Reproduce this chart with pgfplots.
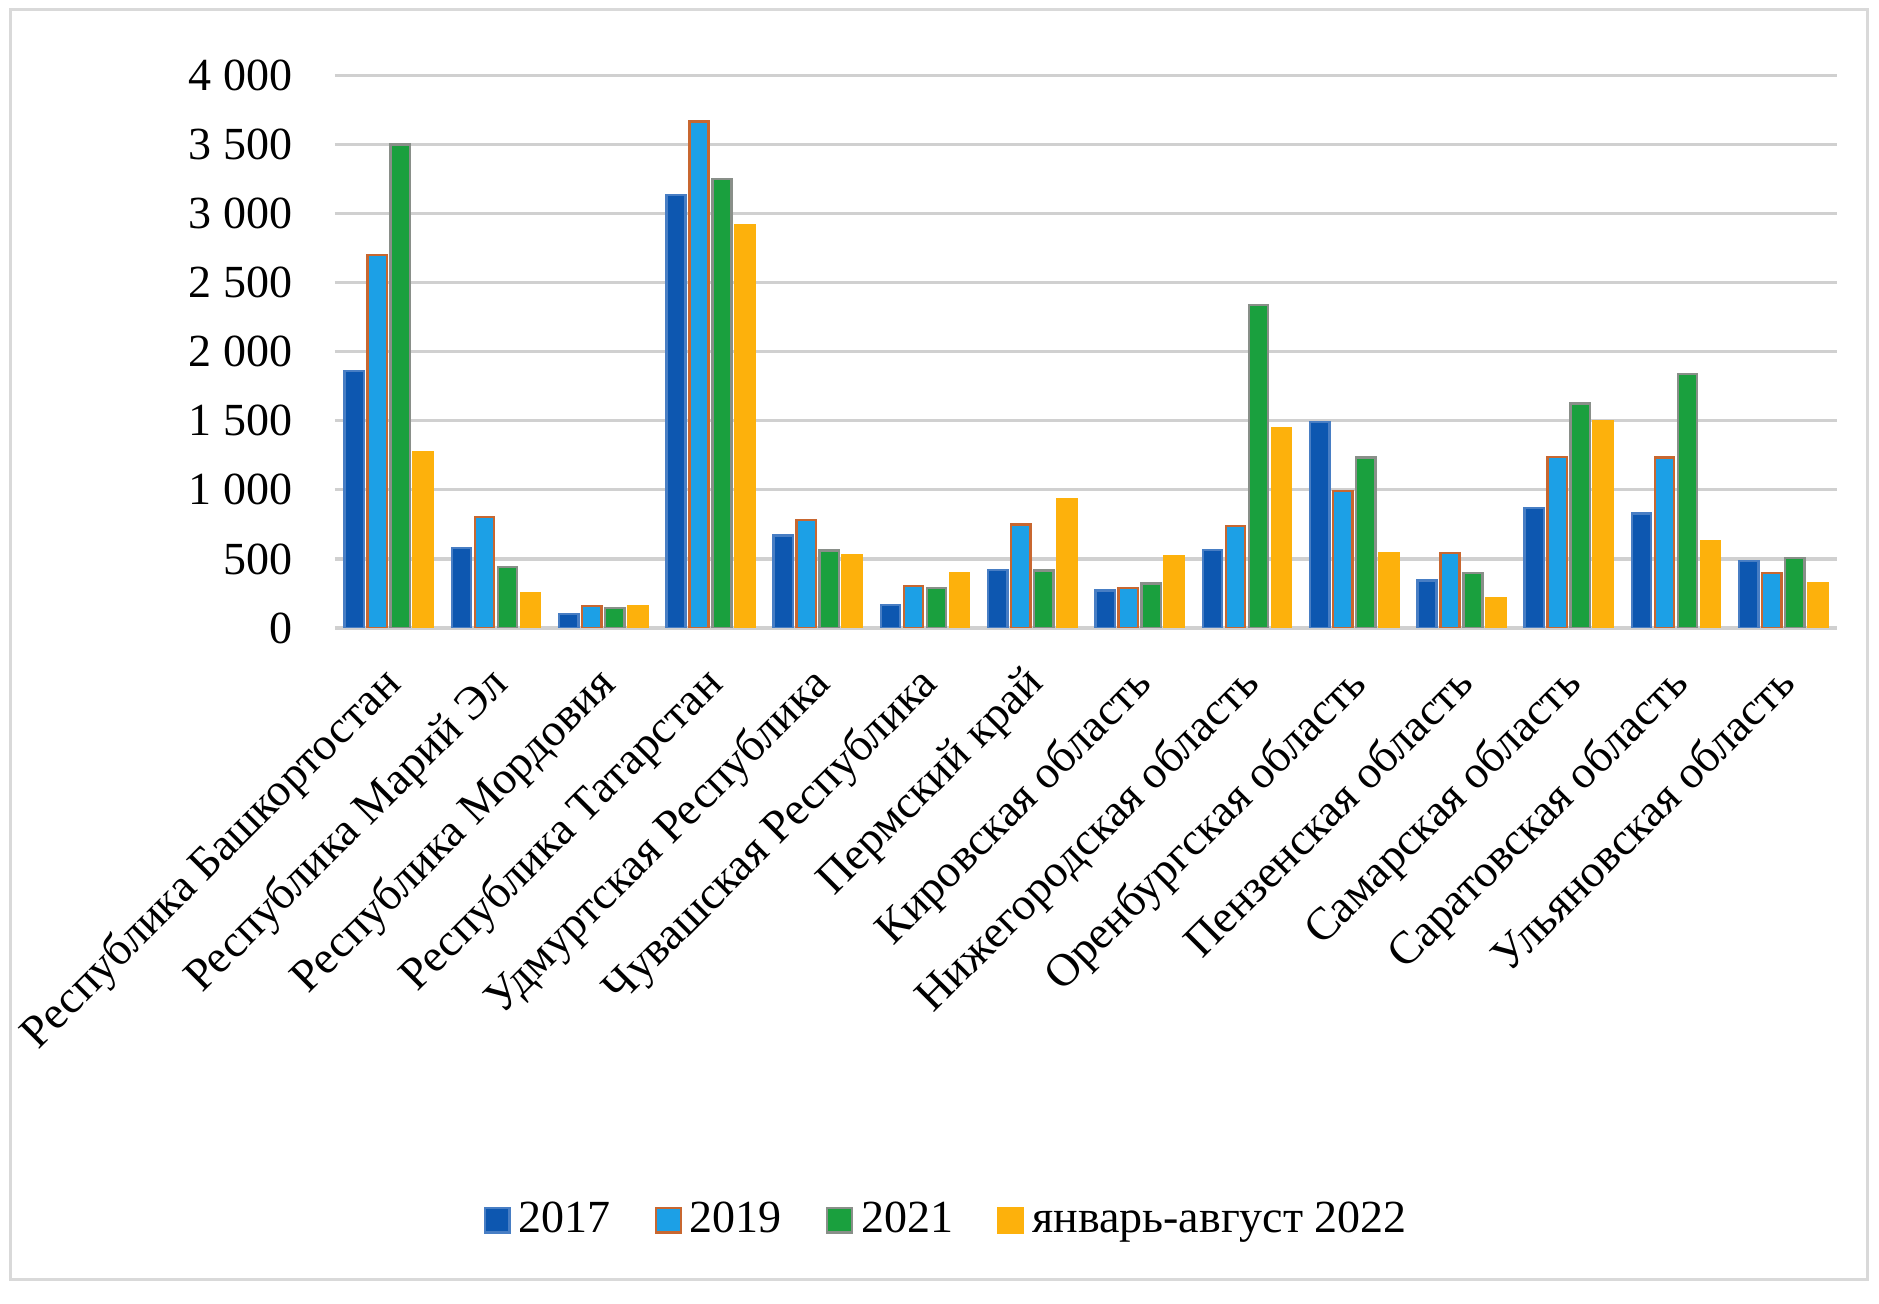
\documentclass[border=0pt]{standalone}
\usepackage{pgfplots}
\pgfplotsset{compat=1.18}
\usepackage{pgfplotstable}
\usepackage{fontspec}
\setmainfont{Liberation Serif}

\definecolor{cA}{RGB}{13,87,176}
\definecolor{cAe}{RGB}{72,126,196}
\definecolor{cB}{RGB}{28,160,230}
\definecolor{cBe}{RGB}{200,103,48}
\definecolor{cC}{RGB}{26,160,62}
\definecolor{cCe}{RGB}{137,143,137}
\definecolor{cD}{RGB}{253,177,12}
\definecolor{gridgray}{RGB}{208,208,208}
\definecolor{framegray}{RGB}{217,217,217}

% values
\pgfplotstableread{
x y17 y19 y21 y22
0 1860 2700 3500 1270
1 580 805 440 255
2 102 160 145 160
3 3137 3667 3252 2916
4 670 780 560 530
5 165 305 290 395
6 418 750 415 935
7 270 290 322 522
8 565 740 2340 1450
9 1490 990 1235 545
10 345 541 396 213
11 870 1240 1625 1500
12 830 1235 1840 630
13 483 400 505 326
}\data

\begin{document}
\begin{tikzpicture}
\path[use as bounding box] (0,0) rectangle (469.75pt,326pt);
\draw[line width=0.75pt, framegray] (2.5pt,6pt) rectangle (466.75pt,323.5pt);
\begin{axis}[
    at={(83.75pt,169pt)}, anchor=south west,
    scale only axis, width=375.5pt, height=138.1pt,
    ymin=0, ymax=4000, xmin=-0.5, xmax=13.5,
    ytick={0,500,...,4000},
    xtick={0,...,13},
    xticklabels={Республика Башкортостан, Республика Марий Эл, Республика Мордовия,
        Республика Татарстан, Удмуртская Республика, Чувашская Республика,
        Пермский край, Кировская область, Нижегородская область,
        Оренбургская область, Пензенская область, Самарская область,
        Саратовская область, Ульяновская область},
    axis line style={draw=none},
    major tick length=0pt,
    ymajorgrids, grid style={line width=0.8pt, gridgray},
    font=\fontsize{11.5}{13.8}\selectfont,
    /pgf/number format/1000 sep={\ },
    /pgf/number format/assume math mode=true,
    yticklabel style={anchor=east, inner sep=0pt, xshift=-10.5pt},
    xticklabel style={xshift=-2.3pt, yshift=-8.45pt, rotate=45, anchor=north east, inner sep=0pt},
    legend columns=4,
    legend style={at={(0.409,-1.072)}, anchor=center, draw=none, fill=none,
        font=\fontsize{11.5}{13.8}\selectfont,
        /tikz/every even column/.append style={column sep=9pt}},
    legend image code/.code={\draw[#1] (0pt,-3.1pt) rectangle (6.2pt,3.1pt);},
    bars/.style={ybar, bar width=4.8pt, line width=0.6pt},
]
\addplot[bars, bar shift=-8.625pt, fill=cA, draw=cAe] table[x=x, y=y17] {\data};
\addplot[bars, bar shift=-2.875pt, fill=cB, draw=cBe] table[x=x, y=y19] {\data};
\addplot[bars, bar shift=2.875pt, fill=cC, draw=cCe] table[x=x, y=y21] {\data};
\addplot[bars, bar shift=8.625pt, fill=cD, draw=cD] table[x=x, y=y22] {\data};
\legend{2017, 2019, 2021, январь-август 2022}
\end{axis}
\end{tikzpicture}
\end{document}
